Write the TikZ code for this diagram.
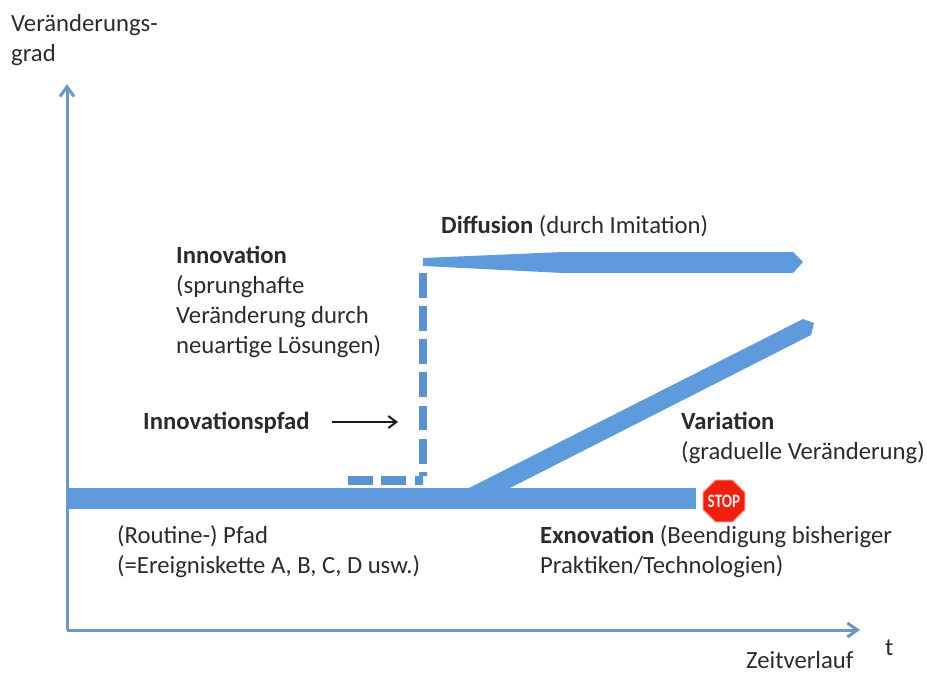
\documentclass[tikz,border=0pt]{standalone}
\usepackage{fontspec}
\setmainfont{Carlito}
\usetikzlibrary{arrows.meta,shapes.geometric}
\definecolor{barblue}{HTML}{5F9BDC}
\definecolor{dashblue}{HTML}{5A93CE}
\definecolor{axisblue}{HTML}{6A97C4}
\definecolor{inktext}{HTML}{2B2B2B}
\definecolor{stopred}{HTML}{F0200F}
\tikzset{
  lbl/.style={anchor=base west,inner sep=0pt,text=inktext,font=\fontsize{24.7}{29.7}\selectfont,align=left},
  axisline/.style={draw=axisblue,line width=3pt,-{Straight Barb[length=10pt,width=14pt,line width=3pt]}},
  band/.style={fill=barblue,draw=none},
  dashbox/.style={fill=dashblue,draw=none},
  pointer/.style={draw=black!90,line width=2pt,-{Straight Barb[length=8pt,width=12pt,line width=2pt]}}
}
\begin{document}
\begin{tikzpicture}[x=1pt,y=-1pt]
\useasboundingbox (0,0) rectangle (927,675);
% axes
\coordinate (origin) at (67,630);
\coordinate (ytip) at (67,84);
\coordinate (xtip) at (860,630);
\draw[axisline] (origin) -- (ytip);
\draw[axisline] (origin) -- (xtip);
% bands
\fill[band] (67,488) rectangle (696,509);
\fill[band] (423,258) -- (563,252) -- (793,252) -- (803,262) -- (793,273) -- (563,273) -- (423,266) -- cycle;
\fill[band] (467,489) -- (803,319) -- (814,323) -- (811,335) -- (508,489) -- cycle;
% dashes
\foreach \a/\b in {273/298,306/331,339/364,372/397,406/430,439/464}
  \fill[dashbox] (419,\a) rectangle (427,\b);
\foreach \a/\b in {348/373,381/406}
  \fill[dashbox] (\a,476) rectangle (\b,485);
\fill[dashbox] (415,476) -- (419,476) -- (419,472) -- (427,472) -- (427,476) -- (423,476) -- (423,485) -- (415,485) -- cycle;
% stop sign
\node[regular polygon,regular polygon sides=8,minimum size=45pt,inner sep=0pt,fill=stopred,draw=stopred!55,line width=1pt,text=white!92!red,font=\fontsize{19}{20}\selectfont\bfseries] (stop) at (724,501) {\makebox[0pt]{\scalebox{0.8}[1]{STOP}}};
% labels
\node[lbl] (yl) at (11,61) {Veränderungs-\\grad};
\node[lbl] (inno) at (176,353) {\textbf{Innovation}\\(sprunghafte\\Veränderung durch\\neuartige Lösungen)};
\node[lbl] (diff) at (441,233) {\textbf{Diffusion} (durch Imitation)};
\node[lbl] (pfad) at (143,429) {\textbf{Innovationspfad}};
\coordinate (ptr) at (398,422);
\draw[pointer] (332,422) -- (ptr);
\node[lbl] (vari) at (681,459) {\textbf{Variation}\\(graduelle Veränderung)};
\node[lbl] (rout) at (117,573) {(Routine-) Pfad\\(=Ereigniskette A, B, C, D usw.)};
\node[lbl] (exno) at (540,573) {\textbf{Exnovation} (Beendigung bisheriger\\Praktiken/Technologien)};
\node[lbl] (tl) at (885,655) {t};
\node[lbl] (zeit) at (746,668) {Zeitverlauf};
\end{tikzpicture}
\end{document}
